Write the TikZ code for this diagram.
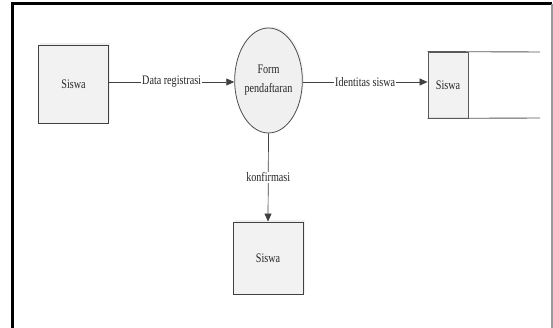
\documentclass[tikz,border=0pt]{standalone}
\usepackage{fontspec}
\setmainfont{Liberation Serif}[FakeStretch=0.78]
\usetikzlibrary{shapes.geometric,arrows.meta,shadows}

\tikzset{
  ext/.style={draw=black!75, line width=0.9pt, fill=black!5, minimum width=70pt, minimum height=78pt,
              inner sep=0pt, drop shadow={opacity=0.12, shadow xshift=1.5pt, shadow yshift=1.5pt}},
  proc/.style={ellipse, draw=black!70, line width=0.8pt, fill=black!6, minimum width=63pt,
               minimum height=105pt, inner sep=0pt, align=center,
               drop shadow={opacity=0.10, shadow xshift=1.5pt, shadow yshift=1.5pt}},
  storebox/.style={draw=black!65, line width=0.9pt, fill=black!5, minimum width=40pt,
                   minimum height=66pt, inner sep=0pt},
  storeline/.style={draw=black!65, line width=0.9pt},
  flow/.style={draw=black!75, line width=0.7pt, -{Triangle[length=8pt,width=7pt]}},
  flowlabel/.style={fill=white, inner sep=1pt},
}

\begin{document}
\begin{tikzpicture}[x=1pt, y=-1pt, font=\fontsize{13}{19}\selectfont, text=black!85]
\useasboundingbox (0,0) rectangle (553,328);

% page frame
\draw[black, line width=3pt] (12,328) -- (12,4) -- (552,4);
\draw[black!40, line width=1.5pt] (552,4) -- (552,328);

% external entities, process and data store
\node[ext] (src) at (73.5,84) {Siswa};
\node[proc] (form) at (268.5,80.5) {Form\\pendaftaran};
\node[ext, minimum height=72pt] (dst) at (268,258) {Siswa};
\node[storebox] (store) at (448,85) {Siswa};
\coordinate (storeTR) at (540,52);
\coordinate (storeBR) at (540,118);
\draw[storeline] (store.north west) -- (storeTR);
\draw[storeline] (store.south west) -- (storeBR);

% data flows
\draw[flow] (src.east |- 0,82) -- node[flowlabel] {Data registrasi} (form.west |- 0,82);
\draw[flow] (form.east |- 0,82) -- node[flowlabel] {Identitas siswa} (store.west |- 0,82);
\draw[flow] (form.south) -- node[flowlabel] {konfirmasi} (dst.north);
\end{tikzpicture}
\end{document}
